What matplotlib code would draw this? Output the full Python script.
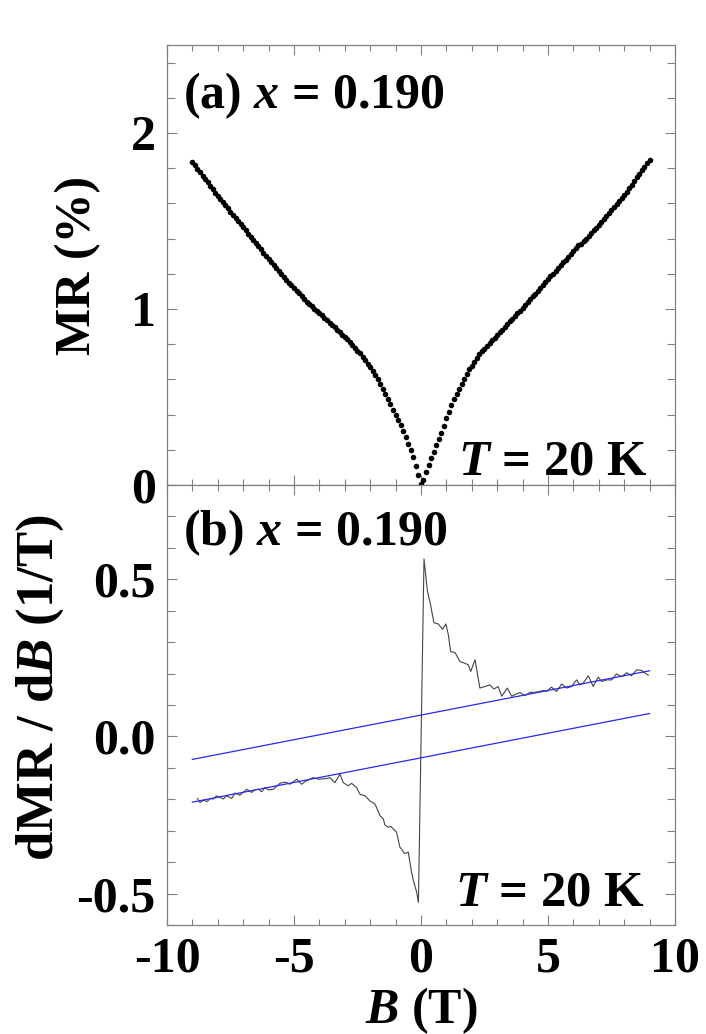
import numpy as np
import matplotlib
matplotlib.use("Agg")
import matplotlib.pyplot as plt
from matplotlib.ticker import MultipleLocator

plt.rcParams['font.family'] = ['Liberation Serif', 'DejaVu Serif']
plt.rcParams['font.weight'] = 'bold'
plt.rcParams['axes.labelweight'] = 'bold'
plt.rcParams['mathtext.fontset'] = 'custom'
plt.rcParams['mathtext.it'] = 'Liberation Serif:italic:bold'
plt.rcParams['mathtext.rm'] = 'Liberation Serif:bold'
plt.rcParams['mathtext.bf'] = 'Liberation Serif:bold'
plt.rcParams['axes.unicode_minus'] = False

# (a) MR vs B, 0.1 T steps from -9 T to 9 T
field = np.round(np.arange(-90, 91) / 10.0, 1)
mr_neg = [1.837, 1.817, 1.797, 1.778, 1.758, 1.739, 1.719, 1.700, 1.680, 1.661,
          1.643, 1.625, 1.607, 1.589, 1.571, 1.553, 1.535, 1.517, 1.499, 1.482,
          1.464, 1.446, 1.428, 1.410, 1.392, 1.374, 1.356, 1.338, 1.320, 1.303,
          1.285, 1.268, 1.250, 1.233, 1.215, 1.198, 1.181, 1.165, 1.150, 1.134,
          1.119, 1.103, 1.088, 1.072, 1.057, 1.041, 1.028, 1.015, 1.002, 0.989,
          0.976, 0.963, 0.950, 0.937, 0.923, 0.909, 0.895, 0.881, 0.867, 0.853,
          0.842, 0.827, 0.811, 0.795, 0.779, 0.763, 0.748, 0.729, 0.710, 0.690,
          0.670, 0.649, 0.626, 0.601, 0.576, 0.546, 0.516, 0.487, 0.458, 0.428,
          0.399, 0.371, 0.339, 0.305, 0.270, 0.235, 0.199, 0.161, 0.110, 0.057]
mr_pos = [0.003, 0.030, 0.075, 0.115, 0.153, 0.188, 0.226, 0.262, 0.298, 0.333,
          0.378, 0.417, 0.455, 0.490, 0.519, 0.547, 0.575, 0.604, 0.633, 0.656,
          0.677, 0.699, 0.720, 0.742, 0.759, 0.775, 0.790, 0.806, 0.821, 0.837,
          0.852, 0.868, 0.883, 0.899, 0.914, 0.930, 0.945, 0.960, 0.976, 0.991,
          1.007, 1.022, 1.038, 1.055, 1.071, 1.087, 1.104, 1.120, 1.136, 1.153,
          1.169, 1.185, 1.201, 1.217, 1.233, 1.249, 1.265, 1.281, 1.297, 1.313,
          1.329, 1.345, 1.361, 1.370, 1.385, 1.400, 1.416, 1.431, 1.447, 1.462,
          1.478, 1.494, 1.510, 1.527, 1.545, 1.562, 1.580, 1.597, 1.615, 1.632,
          1.650, 1.667, 1.687, 1.707, 1.727, 1.747, 1.767, 1.787, 1.807, 1.827,
          1.847]
mr = np.array(mr_neg + mr_pos)

# (b) dMR/dB
dfield = [-8.80, -8.70, -8.55, -8.42, -8.30, -8.18, -8.05, -7.91, -7.78, -7.65,
          -7.45, -7.32, -7.13, -6.86, -6.67, -6.54, -6.40, -6.27, -6.14, -6.01,
          -5.81, -5.55, -5.35, -5.16, -4.89, -4.70, -4.50, -4.24, -4.04, -3.71,
          -3.58, -3.39, -3.19, -3.06, -2.86, -2.73, -2.53, -2.40, -2.20, -2.01,
          -1.81, -1.61, -1.48, -1.42, -1.28, -1.19, -1.09, -0.96, -0.83, -0.63,
          -0.50, -0.37, -0.30, -0.17, -0.10,
          0.12, 0.25, 0.38, 0.51, 0.68, 0.85, 0.98, 1.08, 1.17, 1.34,
          1.54, 1.73, 1.86, 1.96, 2.13, 2.32, 2.52, 2.72, 2.87, 3.04,
          3.18, 3.40, 3.57, 3.70, 3.90, 4.09, 4.29, 4.55, 4.82, 4.95,
          5.14, 5.34, 5.54, 5.74, 5.93, 6.13, 6.26, 6.39, 6.59, 6.78,
          6.98, 7.11, 7.31, 7.51, 7.70, 7.90, 8.10, 8.29, 8.49, 8.69,
          8.78, 8.95]
dmr = [-0.197, -0.210, -0.203, -0.207, -0.198, -0.199, -0.189, -0.194, -0.199, -0.189,
       -0.197, -0.180, -0.187, -0.168, -0.178, -0.170, -0.168, -0.176, -0.162, -0.170,
       -0.168, -0.149, -0.145, -0.152, -0.136, -0.152, -0.141, -0.131, -0.136, -0.134,
       -0.131, -0.147, -0.120, -0.147, -0.157, -0.149, -0.163, -0.184, -0.189, -0.205,
       -0.215, -0.252, -0.263, -0.282, -0.289, -0.286, -0.294, -0.305, -0.352, -0.373,
       -0.368, -0.432, -0.458, -0.495, -0.528,
       0.565, 0.465, 0.418, 0.362, 0.358, 0.341, 0.358, 0.323, 0.270, 0.267,
       0.238, 0.233, 0.228, 0.207, 0.244, 0.154, 0.159, 0.164, 0.151, 0.159,
       0.128, 0.154, 0.128, 0.133, 0.140, 0.130, 0.140, 0.141, 0.146, 0.143,
       0.157, 0.143, 0.167, 0.154, 0.159, 0.180, 0.164, 0.170, 0.193, 0.159,
       0.189, 0.175, 0.180, 0.180, 0.199, 0.190, 0.203, 0.193, 0.212, 0.210,
       0.204, 0.195]

# linear fits (endpoints at -9 T and 9 T)
fit_field = [-9.0, 9.0]
fit_upper = [-0.073, 0.209]
fit_lower = [-0.209, 0.073]

fig = plt.figure(figsize=(7.06, 10.34), dpi=100)
ax1 = fig.add_axes([0.2365, 0.531, 0.7195, 0.4255])
ax2 = fig.add_axes([0.2365, 0.1054, 0.7195, 0.4255])

ax1.plot(field, mr, 'o', color='black', markersize=4.0, markeredgewidth=0)

ax2.plot(dfield, dmr, '-', color='#444444', linewidth=0.8)
ax2.plot(fit_field, fit_upper, '-', color='#2828f0', linewidth=0.9)
ax2.plot(fit_field, fit_lower, '-', color='#2828f0', linewidth=0.9)

spine_col = '#808080'
for ax in (ax1, ax2):
    ax.set_xlim(-10, 10)
    ax.xaxis.set_major_locator(MultipleLocator(5))
    ax.xaxis.set_minor_locator(MultipleLocator(1))
    for s in ax.spines.values():
        s.set_color(spine_col)
        s.set_linewidth(0.9)
    ax.tick_params(which='both', direction='in', top=True, right=True,
                   color=spine_col, width=0.8, labelsize=36, pad=8)
    ax.tick_params(which='major', length=7)
    ax.tick_params(which='minor', length=4.5)
    ax.tick_params(axis='y', which='minor', length=6)

ax1.set_ylim(0, 2.5)
ax1.yaxis.set_major_locator(MultipleLocator(1))
ax1.yaxis.set_minor_locator(MultipleLocator(0.2))
ax1.tick_params(axis='x', labelbottom=False)

ax2.set_ylim(-0.6, 0.8)
ax2.set_yticks([-0.5, 0.0, 0.5])
ax2.set_yticklabels(['-0.5', '0.0', '0.5'])
ax2.yaxis.set_minor_locator(MultipleLocator(0.1))
ax2.set_xticks([-10, -5, 0, 5, 10])
ax2.set_xticklabels(['-10', '-5', '0', '5', '10'])

ax1.text(0.031, 0.857, '(a) $x$ = 0.190', transform=ax1.transAxes,
         fontsize=36, ha='left', va='baseline')
ax1.text(0.947, 0.023, '$T$ = 20 K', transform=ax1.transAxes,
         fontsize=36.5, ha='right', va='baseline')
ax2.text(0.031, 0.864, '(b) $x$ = 0.190', transform=ax2.transAxes,
         fontsize=36, ha='left', va='baseline')
ax2.text(0.941, 0.045, '$T$ = 20 K', transform=ax2.transAxes,
         fontsize=36.5, ha='right', va='baseline')

ax1.text(-0.175, 0.5, 'MR (%)', transform=ax1.transAxes, rotation=90,
         fontsize=36, ha='center', va='center')
ax2.text(-0.25, 0.54, 'dMR / d$B$ (1/T)', transform=ax2.transAxes, rotation=90,
         fontsize=38, ha='center', va='center')
ax2.set_xlabel('$B$ (T)', fontsize=36, fontweight='bold', labelpad=2)

fig.savefig('out.png', dpi=100)
